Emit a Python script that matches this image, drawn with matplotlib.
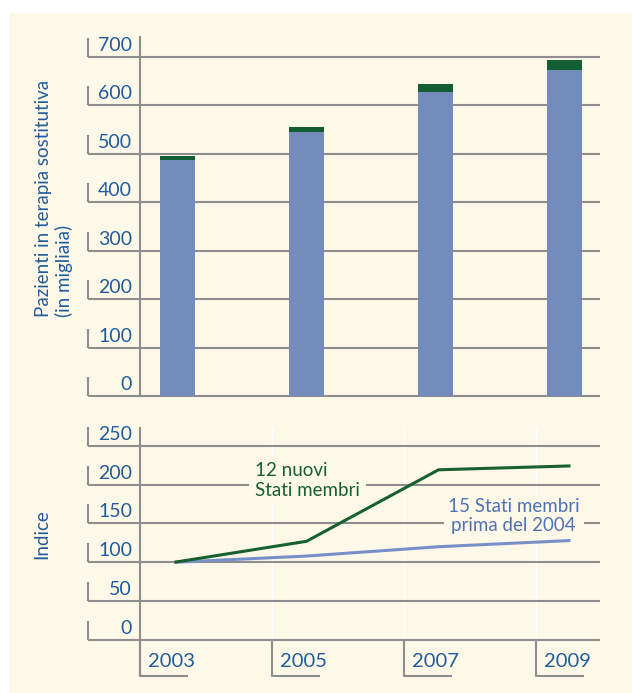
import matplotlib
matplotlib.use("Agg")
import matplotlib.pyplot as plt
from matplotlib.patches import Rectangle
import numpy as np

# ---------------- data ----------------
years = ["2003", "2005", "2007", "2009"]
patients_eu15 = [487, 545, 627, 673]       # thousands (blue part)
patients_new12 = [8, 10, 17, 20]           # thousands (green top)
index_new12 = [100, 127, 219, 224]
index_eu15 = [100, 108, 120, 128]
top_ticks = [0, 100, 200, 300, 400, 500, 600, 700]
bottom_ticks = [0, 50, 100, 150, 200, 250]
label_top = "Pazienti in terapia sostitutiva\n(in migliaia)"
label_bottom = "Indice"
note_new12 = "12 nuovi\nStati membri"
note_eu15 = "15 Stati membri\nprima del 2004"

# ---------------- style ----------------
CREAM = "#FEF8E8"
BLUE_BAR = "#748CBC"
GREEN_BAR = "#135E32"
TXT_BLUE = "#1F5C9E"
GRID = "#8E8E8E"
LINE_GREEN = "#17602F"
LINE_BLUE = "#7890C8"
NOTE_BLUE = "#4F72B4"
FONT = ["Lato", "DejaVu Sans"]
plt.rcParams["font.family"] = FONT

W, H = 632, 693
fig = plt.figure(figsize=(W / 100, H / 100), dpi=100, facecolor="white")
fig.patches.append(Rectangle((10 / W, 0), 1 - 10 / W, 1 - 13 / H,
                             transform=fig.transFigure, facecolor=CREAM,
                             edgecolor="none", zorder=-10))

ax_left, ax_right = 140, 600
ax_w = ax_right - ax_left


def make_axes(top_px, bottom_px, first_px, step_px):
    ax = fig.add_axes([ax_left / W, 1 - bottom_px / H, ax_w / W, (bottom_px - top_px) / H])
    ax.set_facecolor("none")
    for s in ["top", "right", "bottom"]:
        ax.spines[s].set_visible(False)
    ax.spines["left"].set_color(GRID)
    ax.spines["left"].set_linewidth(1.5)
    ax.set_xticks([])
    ax.set_yticks([])
    lo = -(first_px - ax_left) / step_px
    ax.set_xlim(lo, lo + ax_w / step_px)
    return ax


def draw_grid(ax, ticks, px_per_unit):
    ext = (88 - ax_left) / ax_w
    ytr = ax.get_yaxis_transform()
    for v in ticks:
        ax.plot([ext, 1], [v, v], transform=ytr, color=GRID, lw=1.5,
                clip_on=False, zorder=1, solid_capstyle="butt")
        ax.plot([ext, ext], [v, v + 19 / px_per_unit], transform=ytr, color=GRID,
                lw=1.5, clip_on=False, zorder=1, solid_capstyle="butt")
        ax.text((132 - ax_left) / ax_w, v + 6 / px_per_unit, str(v), transform=ytr,
                ha="right", va="baseline", fontsize=14, color=TXT_BLUE)


x = np.arange(len(years))

# ---------------- top panel ----------------
top_px, zero_px = 37, 396
bar_step = 128.9
ax1 = make_axes(top_px, zero_px, 177.4, bar_step)
ppu1 = (zero_px - 56.7) / 700
ax1.set_ylim(0, (zero_px - top_px) / ppu1)
draw_grid(ax1, top_ticks, ppu1)
bw = 35 / bar_step
ax1.bar(x, patients_eu15, width=bw, color=BLUE_BAR, zorder=2)
ax1.bar(x, patients_new12, bottom=patients_eu15, width=bw, color=GREEN_BAR, zorder=2)
fig.text(54 / W, 1 - 317 / H, label_top, rotation=90, ha="center", va="bottom",
         multialignment="left", fontsize=13.5, color=TXT_BLUE, linespacing=1.2)

# ---------------- bottom panel ----------------
top2_px, zero2_px = 427, 640
cell_px = 132.0
ax2 = make_axes(top2_px, zero2_px, 174.5, cell_px)
x_lo = ax2.get_xlim()[0]
ppu2 = (zero2_px - 445.7) / 250
ax2.set_ylim(0, (zero2_px - top2_px) / ppu2)
for i in range(1, len(years)):
    ax2.axvline(i + x_lo, color="white", lw=1.0, zorder=0.5)
draw_grid(ax2, bottom_ticks, ppu2)
ax2.spines["left"].set_visible(False)
ax2.plot([x_lo, x_lo], [-36 / ppu2, ax2.get_ylim()[1]], color=GRID, lw=1.5,
         clip_on=False, zorder=1, solid_capstyle="butt")
for i, yr in enumerate(years):
    b = i + x_lo
    ax2.plot([b, b, b + 48 / cell_px], [0, -36 / ppu2, -36 / ppu2], color=GRID,
             lw=1.5, clip_on=False, zorder=1, solid_capstyle="butt")
    ax2.text(b + 8 / cell_px, -27 / ppu2, yr, ha="left", va="baseline",
             fontsize=14.5, color=TXT_BLUE)

ax2.plot(x, index_eu15, color=LINE_BLUE, lw=2.2, zorder=3, solid_capstyle="butt")
ax2.plot(x, index_new12, color=LINE_GREEN, lw=2.2, zorder=3, solid_capstyle="butt")

ax2.text(x_lo + (255 - ax_left) / cell_px, 205, note_new12, ha="left", va="center",
         multialignment="left", fontsize=13.5, color=LINE_GREEN, zorder=4,
         linespacing=1.25, bbox=dict(facecolor=CREAM, edgecolor="none", pad=4))
ax2.text(2.57, 159, note_eu15, ha="center", va="center", multialignment="center",
         fontsize=13.5, color=NOTE_BLUE, zorder=2, linespacing=1.15,
         bbox=dict(facecolor=CREAM, edgecolor="none", pad=3))

fig.text(42 / W, 1 - 534 / H, label_bottom, rotation=90, ha="center", va="center",
         fontsize=13.5, color=TXT_BLUE)

fig.savefig("out.png", dpi=100, facecolor="white")
